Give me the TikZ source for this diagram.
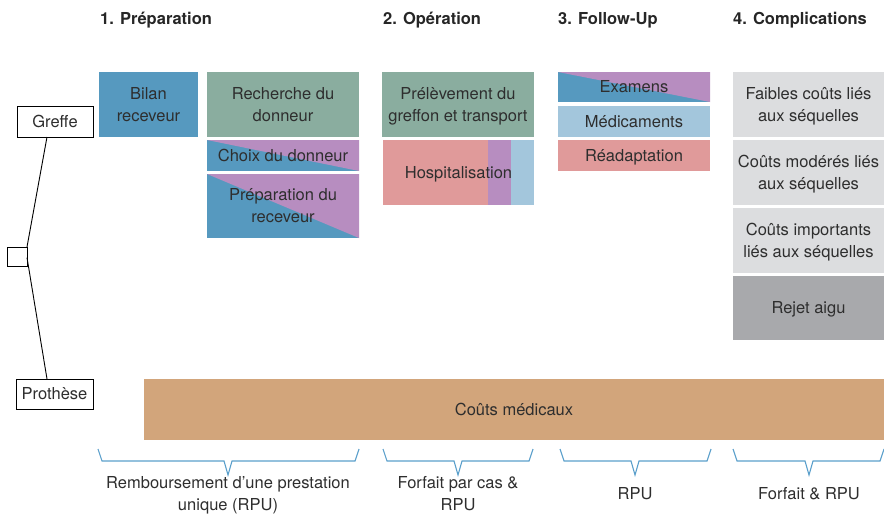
\documentclass[tikz,border=0pt]{standalone}
\usepackage{fontspec}
\setmainfont{TeX Gyre Heros}
\definecolor{cblue}{HTML}{5699BF}
\definecolor{cgreen}{HTML}{8AAD9F}
\definecolor{cpurple}{HTML}{B78DC0}
\definecolor{cpink}{HTML}{E09A9A}
\definecolor{clblue}{HTML}{A3C6DC}
\definecolor{clgray}{HTML}{DCDDDF}
\definecolor{cdgray}{HTML}{A8A9AC}
\definecolor{ctan}{HTML}{D2A57B}
\definecolor{cbrace}{HTML}{5A9FCB}
\definecolor{ctext}{HTML}{2E2E2E}
\newcommand\cellfont{\fontsize{16.5}{22}\selectfont}
\newcommand\titlefont{\fontsize{16.5}{22}\selectfont\bfseries}
% one text line whose box spans exactly the cap height (cap-centred texts)
\newcommand\celline[1]{\rule{0pt}{11.85pt}\smash{#1}}
\tikzset{
  cell/.style={inner sep=0pt, outer sep=0pt, anchor=north west, align=center,
    text=ctext, font=\cellfont},
  diag/.style={path picture={\fill[cpurple] (path picture bounding box.north west)
    -- (path picture bounding box.north east) -- (path picture bounding box.south east) -- cycle;}},
  ttl/.style={anchor=base west, inner sep=0pt, text=black!85, font=\titlefont},
  lab/.style={inner sep=0pt, align=center, text=ctext, font=\cellfont},
  choice/.style={draw=black, line width=0.9pt, fill=white, inner sep=0pt, outer sep=0pt,
    text=ctext, font=\cellfont, anchor=north west},
  branch/.style={draw=black, line width=0.9pt},
  costbrace/.style={draw=cbrace, line width=1.1pt, line join=miter}
}
\begin{document}
\begin{tikzpicture}[x=1pt, y=-1pt]
\useasboundingbox (0,0) rectangle (884,514);
% titles
\node[ttl] (t1) at (100,24) {1. Préparation};
\node[ttl] (t2) at (383,24) {2. Opération};
\node[ttl] (t3) at (558,24) {3. Follow-Up};
\node[ttl] (t4) at (733,24) {4. Complications};
% phase 1
\node[cell, fill=cblue, minimum width=99pt, minimum height=65pt] (bilan) at (99,72) {\celline{Bilan}\\\celline{receveur}};
\node[cell, fill=cgreen, minimum width=152pt, minimum height=65pt] (rech) at (207,72) {\celline{Recherche du}\\\celline{donneur}};
\node[cell, fill=cblue, diag, minimum width=152pt, minimum height=31pt] (choix) at (207,140) {\celline{Choix du donneur}};
\node[cell, fill=cblue, diag, minimum width=152pt, minimum height=64pt] (prep) at (207,174) {\celline{Préparation du}\\\celline{receveur}};
% phase 2
\node[cell, fill=cgreen, minimum width=152pt, minimum height=65pt] (prel) at (382,72) {\celline{Prélèvement du}\\\celline{greffon et transport}};
\node[cell, fill=cpink, minimum width=151pt, minimum height=65pt,
  path picture={
    \fill[cpurple] ([xshift=105pt]path picture bounding box.north west) rectangle ([xshift=128pt]path picture bounding box.south west);
    \fill[clblue] ([xshift=128pt]path picture bounding box.north west) rectangle (path picture bounding box.south east);
  }] (hosp) at (383,140) {\celline{Hospitalisation}};
% phase 3
\node[cell, fill=cblue, diag, minimum width=152pt, minimum height=30pt] (exam) at (558,72) {\celline{Examens}};
\node[cell, fill=clblue, minimum width=152pt, minimum height=31pt] (medic) at (558,106) {\celline{Médicaments}};
\node[cell, fill=cpink, minimum width=152pt, minimum height=31pt] (readapt) at (558,140) {\celline{Réadaptation}};
% phase 4
\node[cell, fill=clgray, minimum width=151pt, minimum height=65pt] (faible) at (733,72) {\celline{Faibles coûts liés}\\\celline{aux séquelles}};
\node[cell, fill=clgray, minimum width=151pt, minimum height=65pt] (modere) at (733,140) {\celline{Coûts modérés liés}\\\celline{aux séquelles}};
\node[cell, fill=clgray, minimum width=151pt, minimum height=65pt] (import) at (733,208) {\celline{Coûts importants}\\\celline{liés aux séquelles}};
\node[cell, fill=cdgray, minimum width=151pt, minimum height=64pt] (rejet) at (733,276) {\celline{Rejet aigu}};
% medical costs
\node[cell, fill=ctan, minimum width=740pt, minimum height=61pt] (medical) at (144,379) {\celline{Coûts médicaux}};
% decision tree
\node[choice, minimum width=76pt, minimum height=31pt] (greffe) at (17,106) {\celline{Greffe}};
\node[choice, minimum width=77pt, minimum height=30pt] (prothese) at (16,379) {\celline{Prothèse}};
\node[draw=black, line width=0.9pt, fill=white, inner sep=0pt, outer sep=0pt, minimum width=20pt, minimum height=19pt, anchor=north west] (dec) at (7,247) {};
\coordinate (gfoot) at (47,137);
\coordinate (pfoot) at (47,379);
\draw[branch] (gfoot) -- (dec.north east);
\draw[branch] ([yshift=-1pt]dec.east) -- (pfoot);
% braces
\draw[costbrace] (98,449) -- (102,461) -- (224,461) -- (228,475) -- (232,461) -- (355,461) -- (359,449);
\draw[costbrace] (383,449) -- (387,461) -- (454,461) -- (458,475) -- (462,461) -- (529,461) -- (533,449);
\draw[costbrace] (560,449) -- (564,461) -- (631,461) -- (635,475) -- (639,461) -- (707,461) -- (711,449);
\draw[costbrace] (733,449) -- (737,461) -- (805,461) -- (809,475) -- (813,461) -- (880,461) -- (884,449);
% labels
\node[lab] (l1) at (228,493.5) {\celline{Remboursement d’une prestation}\\\celline{unique (RPU)}};
\node[lab] (l2) at (458,493.5) {\celline{Forfait par cas \&}\\\celline{RPU}};
\node[lab] (l3) at (635,494) {\celline{RPU}};
\node[lab] (l4) at (809,494) {\celline{Forfait \& RPU}};
\end{tikzpicture}
\end{document}
